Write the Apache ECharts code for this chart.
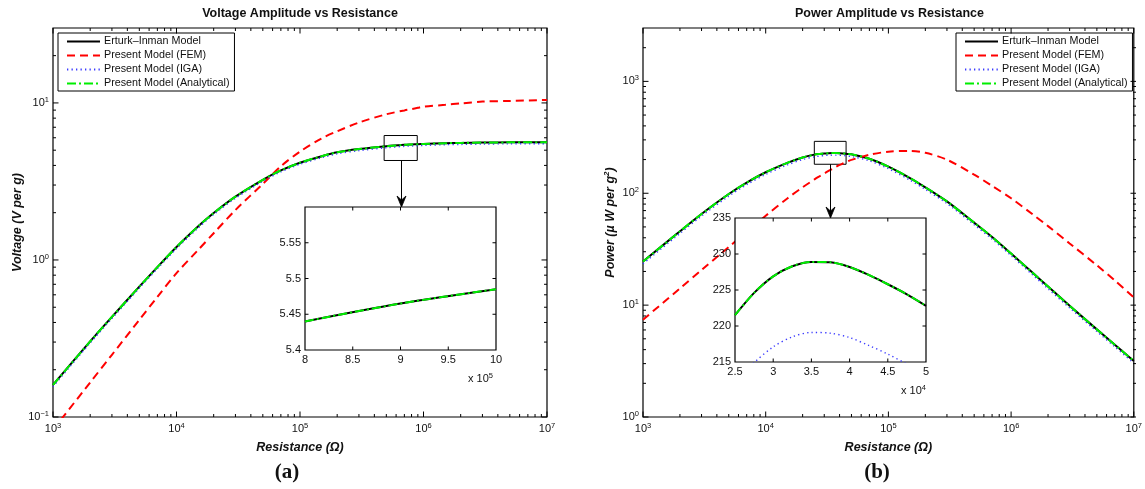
<!DOCTYPE html>
<html>
<head>
<meta charset="utf-8">
<script src="https://cdn.jsdelivr.net/npm/echarts@6/dist/echarts.min.js"></script>
<style>
  html, body { margin: 0; padding: 0; background: #fff; }
  #chart { width: 1145px; height: 489px; }
</style>
</head>
<body>
<div id="chart"></div>
<script>
// ---- Panel (a): voltage amplitude (V per g) against load resistance (Ω) ----
const resistanceA = [1e3, 2e3, 3e3, 5e3, 7e3, 1e4, 1.5e4, 2e4, 3e4, 5e4, 7e4, 1e5, 1.5e5, 2e5, 3e5, 5e5, 7e5, 8e5, 9e5, 1e6, 1.5e6, 2e6, 3e6, 5e6, 1e7];
const voltErturk     = [0.160, 0.303, 0.434, 0.676, 0.900, 1.21, 1.64, 1.99, 2.53, 3.24, 3.72, 4.16, 4.58, 4.85, 5.08, 5.30, 5.41, 5.44, 5.465, 5.485, 5.54, 5.565, 5.59, 5.61, 5.625];
const voltFEM        = [0.083, 0.166, 0.249, 0.415, 0.582, 0.824, 1.16, 1.48, 2.08, 3.05, 3.95, 4.90, 5.95, 6.60, 7.50, 8.47, 8.96, 9.14, 9.31, 9.46, 9.73, 9.93, 10.2, 10.3, 10.45];
const voltIGA        = [0.156, 0.296, 0.424, 0.661, 0.880, 1.18, 1.60, 1.95, 2.47, 3.17, 3.64, 4.07, 4.48, 4.74, 4.97, 5.18, 5.29, 5.32, 5.345, 5.364, 5.42, 5.44, 5.47, 5.49, 5.50];
const voltAnalytical = [0.160, 0.303, 0.434, 0.676, 0.900, 1.21, 1.64, 1.99, 2.53, 3.24, 3.72, 4.16, 4.58, 4.85, 5.08, 5.30, 5.41, 5.44, 5.465, 5.485, 5.54, 5.565, 5.59, 5.61, 5.625];

// ---- Panel (b): power amplitude (µW per g²) against load resistance (Ω) ----
const resistanceB = [1e3, 2e3, 3e3, 5e3, 7e3, 1e4, 1.5e4, 2e4, 2.5e4, 2.75e4, 3e4, 3.25e4, 3.5e4, 3.75e4, 4e4, 4.25e4, 4.5e4, 4.75e4, 5e4, 7e4, 1e5, 1.5e5, 2e5, 3e5, 5e5, 7e5, 1e6, 1.5e6, 2e6, 3e6, 5e6, 7e6, 1e7];
const powerErturk     = [24.5, 45.7, 65.3, 98.4, 124.5, 154, 187, 209, 221.5, 224.6, 226.9, 228.3, 228.9, 228.85, 228.2, 227.1, 225.8, 224.4, 222.8, 203.7, 173, 136.8, 113, 84.5, 54.6, 40.6, 28.9, 19.45, 14.66, 9.86, 6.07, 4.43, 3.17];
const powerFEM        = [7.41, 14.1, 20.6, 33.1, 45.3, 62.9, 89.9, 113.2, 133, 141.9, 150.3, 158.2, 165.6, 172.6, 179, 184.5, 189.7, 194.5, 198.6, 221, 235, 239, 230, 199.5, 146.6, 116.4, 90.2, 64.7, 50.8, 35.6, 22.7, 16.6, 11.7];
const powerIGA        = [23.4, 43.7, 62.5, 94.2, 119.1, 147.4, 179.0, 200.0, 212.0, 214.9, 217.1, 218.5, 219.1, 219.0, 218.4, 217.3, 216.1, 214.7, 213.2, 194.9, 165.6, 130.9, 108.1, 80.9, 52.3, 38.9, 27.7, 18.6, 14.0, 9.44, 5.81, 4.24, 3.03];
const powerAnalytical = [24.5, 45.7, 65.3, 98.4, 124.5, 154, 187, 209, 221.5, 224.6, 226.9, 228.3, 228.9, 228.85, 228.2, 227.1, 225.8, 224.4, 222.8, 203.7, 173, 136.8, 113, 84.5, 54.6, 40.6, 28.9, 19.45, 14.66, 9.86, 6.07, 4.43, 3.17];

// Model names shown in the legends
const modelNames = ['Erturk\u2013Inman Model', 'Present Model (FEM)', 'Present Model (IGA)', 'Present Model (Analytical)'];

// Zoom windows marked on the main plots (resistance range, response range)
const zoomWindowA = { r: [4.8e5, 8.9e5], v: [4.3, 6.2] };
const zoomWindowB = { r: [2.49e4, 4.52e4], v: [181.6, 291] };

// Decade tick values of the logarithmic axes
const decadesR = [1e3, 1e4, 1e5, 1e6, 1e7];
const decadesV = [0.1, 1, 10];
const decadesP = [1, 10, 100, 1000];

const FONT = '"Liberation Sans", Arial, Helvetica, sans-serif';
const INK = '#111';

const grids = [
  { left: 53,  top: 28,  width: 494, height: 389 },
  { left: 643, top: 28,  width: 493, height: 389 },
  { left: 305, top: 207, width: 191, height: 143 },
  { left: 735, top: 218, width: 191, height: 144 }
];

const lineStyles = [
  { color: '#000000', width: 2,   type: 'solid' },
  { color: '#ff0000', width: 2,   type: [8, 5] },
  { color: '#3a3aff', width: 1.4, type: [1.3, 3.2] },
  { color: '#00ee00', width: 2,   type: [9, 3, 2, 3] }
];

const chart = echarts.init(document.getElementById('chart'), null, { renderer: 'canvas' });

function pairs(xs, ys, lo, hi) {
  const out = [];
  xs.forEach((x, i) => { if (lo == null || (x >= lo && x <= hi)) out.push([x, ys[i]]); });
  return out;
}

function powLabel(v) {
  const e = Math.round(Math.log10(v));
  return '10{e|' + (e < 0 ? '\u2212' + (-e) : e) + '}';
}

const supRich = { e: { fontSize: 7.5, lineHeight: 8, verticalAlign: 'top', fontFamily: FONT, color: INK } };

function logAxis(gi, min, max, isY) {
  return {
    type: 'log', logBase: 10, gridIndex: gi, min: min, max: max,
    axisLine: { show: false }, axisTick: { show: false }, splitLine: { show: false }, minorTick: { show: false },
    axisLabel: {
      formatter: powLabel, rich: supRich, fontSize: 11, lineHeight: 14, color: INK, fontFamily: FONT,
      margin: isY ? 4 : 5, showMaxLabel: isY ? false : true
    }
  };
}

function linAxis(gi, min, max, interval, fmt, showMax) {
  return {
    type: 'value', gridIndex: gi, min: min, max: max, interval: interval, z: 12,
    axisLine: { show: false }, axisTick: { show: false }, splitLine: { show: false },
    axisLabel: {
      formatter: fmt, fontSize: 11, color: INK, fontFamily: FONT, margin: 4,
      showMaxLabel: showMax
    }
  };
}

const nameStyle = { fontSize: 12.5, fontWeight: 'bold', fontStyle: 'italic', fontFamily: FONT, color: INK };

const xAxes = [
  Object.assign(logAxis(0, 1e3, 1e7, false), { name: 'Resistance (\u03A9)', nameLocation: 'middle', nameGap: 22, nameTextStyle: nameStyle }),
  Object.assign(logAxis(1, 1e3, 1e7, false), { name: 'Resistance (\u03A9)', nameLocation: 'middle', nameGap: 22, nameTextStyle: nameStyle }),
  linAxis(2, 8e5, 1e6, 5e4, v => String(+(v / 1e5).toFixed(2)), true),
  linAxis(3, 2.5e4, 5e4, 5e3, v => String(+(v / 1e4).toFixed(2)), true)
];

const yAxes = [
  Object.assign(logAxis(0, 0.1, 30, true), { name: 'Voltage (V per g)', nameLocation: 'middle', nameGap: 28, nameTextStyle: nameStyle }),
  Object.assign(logAxis(1, 1, 3000, true), {
    name: '{t|Power (\u00B5 W per g}{s|2}{t|)}', nameLocation: 'middle', nameGap: 25,
    nameTextStyle: {
      rich: {
        t: Object.assign({ lineHeight: 15 }, nameStyle),
        s: { fontSize: 8, lineHeight: 8, verticalAlign: 'top', fontWeight: 'bold', fontStyle: 'italic', fontFamily: FONT, color: INK }
      }
    }
  }),
  linAxis(2, 5.4, 5.6, 0.05, v => String(+v.toFixed(2)), false),
  linAxis(3, 215, 235, 5, v => String(v), true)
];

function makeSeries(xs, ysList, axisIndex, range, windowBox) {
  const inset = !!range;
  return ysList.map((ys, k) => {
    const s = {
      name: modelNames[k], type: 'line', xAxisIndex: axisIndex, yAxisIndex: axisIndex,
      data: inset ? pairs(xs, ys, range[0], range[1]) : pairs(xs, ys),
      symbol: 'none', smooth: 0.3, clip: true,
      lineStyle: lineStyles[k], itemStyle: { color: lineStyles[k].color },
      z: inset ? 12 : 2, silent: true
    };
    if (windowBox && k === 0) {
      s.markArea = {
        silent: true,
        itemStyle: { color: 'rgba(0,0,0,0)', borderColor: '#000', borderWidth: 1 },
        data: [[{ xAxis: windowBox.r[0], yAxis: windowBox.v[1] }, { xAxis: windowBox.r[1], yAxis: windowBox.v[0] }]]
      };
    }
    return s;
  });
}

const voltSets = [voltErturk, voltFEM, voltIGA, voltAnalytical];
const powerSets = [powerErturk, powerFEM, powerIGA, powerAnalytical];

const legendBase = {
  orient: 'vertical', top: 33, itemWidth: 33, itemHeight: 10, itemGap: 1,
  padding: [2, 5, 1, 8], borderColor: '#000', borderWidth: 1, backgroundColor: '#fff',
  selectedMode: false, data: modelNames,
  itemStyle: { opacity: 0 },
  textStyle: { fontSize: 10.75, lineHeight: 13, color: INK, fontFamily: FONT, padding: [0, 0, 0, -1] }
};

const option = {
  animation: false,
  backgroundColor: '#fff',
  grid: grids.map((g, i) => Object.assign({
    show: true, containLabel: false,
    borderColor: '#000', borderWidth: 1.2,
    backgroundColor: i >= 2 ? '#fff' : 'rgba(0,0,0,0)',
    z: i >= 2 ? 10 : 0
  }, g)),
  xAxis: xAxes,
  yAxis: yAxes,
  legend: [
    Object.assign({ left: 58 }, legendBase),
    Object.assign({ left: 956 }, legendBase)
  ],
  series: [].concat(
    makeSeries(resistanceA, voltSets, 0, null, zoomWindowA),
    makeSeries(resistanceB, powerSets, 1, null, zoomWindowB),
    makeSeries(resistanceA, voltSets, 2, [8e5, 1e6], null),
    makeSeries(resistanceB, powerSets, 3, [2.5e4, 5e4], null)
  )
};

chart.setOption(option);

// ---- inward tick marks on all four sides, arrows, titles and panel tags ----
const gfx = [];
function seg(x1, y1, x2, y2, z, w) {
  gfx.push({ type: 'line', silent: true, z: z, shape: { x1: x1, y1: y1, x2: x2, y2: y2 }, style: { stroke: '#000', lineWidth: w || 1 } });
}
function minorsOf(decades, lo, hi) {
  const out = [];
  decades.forEach(d => { for (let k = 2; k <= 9; k++) { const v = k * d; if (v > lo && v < hi) out.push(v); } });
  return out;
}
function drawTicks(gi, xVals, yVals, len, z) {
  const g = grids[gi];
  const x0 = g.left, x1 = g.left + g.width, y0 = g.top, y1 = g.top + g.height;
  xVals.forEach(v => {
    const p = chart.convertToPixel({ xAxisIndex: gi }, v);
    seg(p, y1, p, y1 - len, z); seg(p, y0, p, y0 + len, z);
  });
  yVals.forEach(v => {
    const p = chart.convertToPixel({ yAxisIndex: gi }, v);
    seg(x0, p, x0 + len, p, z); seg(x1, p, x1 - len, p, z);
  });
}
drawTicks(0, decadesR, decadesV, 5.5, 5);
drawTicks(0, minorsOf(decadesR, 1e3, 1e7), minorsOf(decadesV, 0.1, 30), 3, 5);
drawTicks(1, decadesR, decadesP, 5.5, 5);
drawTicks(1, minorsOf(decadesR, 1e3, 1e7), minorsOf(decadesP, 1, 3000), 3, 5);
drawTicks(2, [8.5e5, 9e5, 9.5e5], [5.45, 5.5, 5.55], 3.5, 13);
drawTicks(3, [3e4, 3.5e4, 4e4, 4.5e4], [220, 225, 230], 3.5, 13);

function arrow(axisIdx, box, insetIdx) {
  const pA = chart.convertToPixel({ xAxisIndex: axisIdx, yAxisIndex: axisIdx }, [box.r[0], box.v[0]]);
  const pB = chart.convertToPixel({ xAxisIndex: axisIdx, yAxisIndex: axisIdx }, [box.r[1], box.v[0]]);
  const x = Math.round((pA[0] + pB[0]) / 2) + 0.5;
  const yTop = pA[1];
  const yEnd = grids[insetIdx].top;
  seg(x, yTop, x, yEnd - 4, 6, 1);
  gfx.push({
    type: 'polygon', silent: true, z: 14,
    shape: { points: [[x, yEnd], [x - 4.5, yEnd - 11], [x, yEnd - 7], [x + 4.5, yEnd - 11]] },
    style: { fill: '#000', stroke: '#000', lineWidth: 0.8 }
  });
}
arrow(0, zoomWindowA, 2);
arrow(1, zoomWindowB, 3);

function text(x, y, str, font, align, extra) {
  gfx.push({
    type: 'text', silent: true, z: 20,
    style: Object.assign({ x: x, y: y, text: str, font: font, fill: INK, align: align || 'center', verticalAlign: 'middle' }, extra || {})
  });
}
const titleFont = 'bold 12.5px ' + FONT;
text(grids[0].left + grids[0].width / 2, 14, 'Voltage Amplitude vs Resistance', titleFont);
text(grids[1].left + grids[1].width / 2, 14, 'Power Amplitude vs Resistance', titleFont);
text(287, 473, '(a)', 'bold 21px "Liberation Serif", "Times New Roman", serif');
text(877, 473, '(b)', 'bold 21px "Liberation Serif", "Times New Roman", serif');

const expRich = { rich: { e: { fontSize: 7.5, lineHeight: 8, verticalAlign: 'top', fontFamily: FONT, fill: INK } }, lineHeight: 14 };
text(grids[2].left + grids[2].width - 3, grids[2].top + grids[2].height + 29, 'x 10{e|5}', '11px ' + FONT, 'right', expRich);
text(grids[3].left + grids[3].width, grids[3].top + grids[3].height + 29, 'x 10{e|4}', '11px ' + FONT, 'right', expRich);

chart.setOption({ graphic: { elements: gfx } });
</script>
</body>
</html>
